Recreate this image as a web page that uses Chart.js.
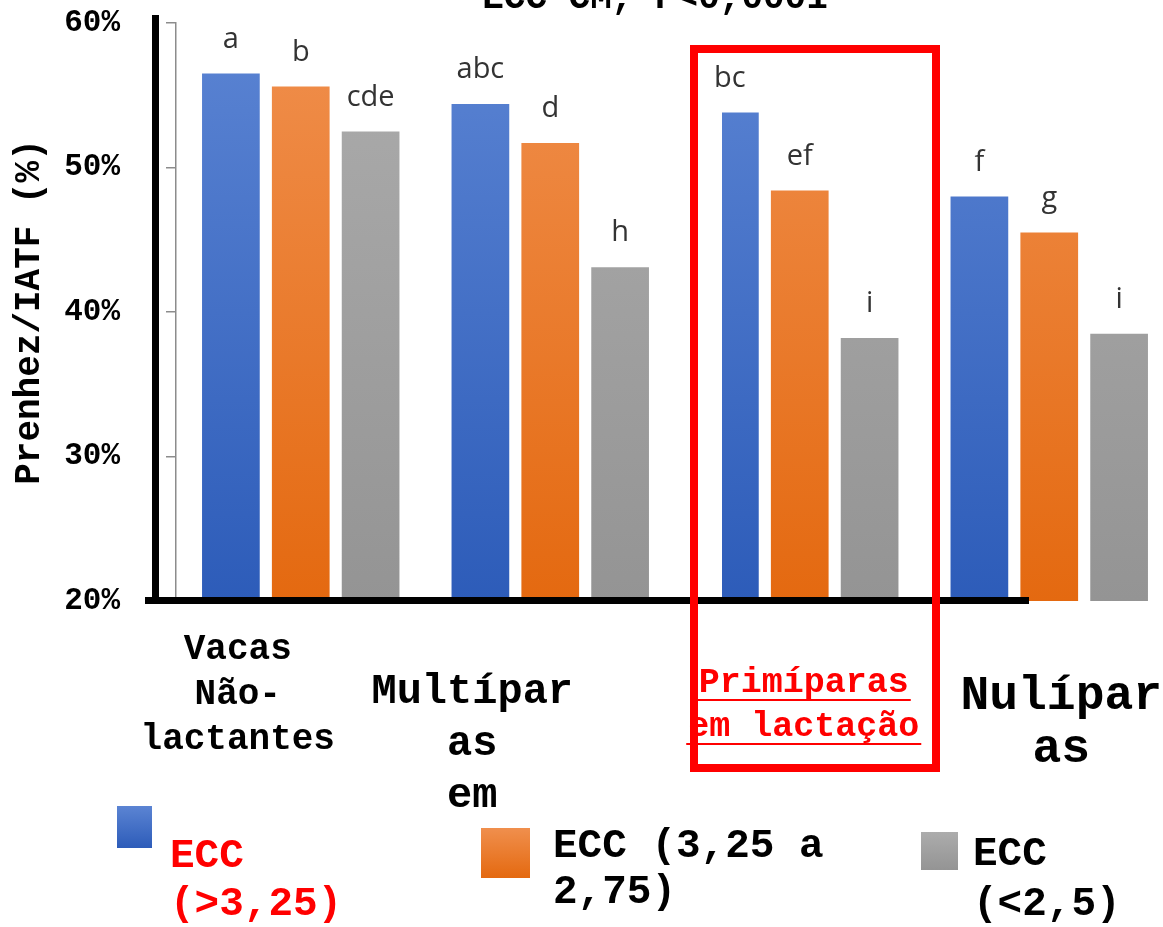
<!DOCTYPE html>
<html>
<head>
<meta charset="utf-8">
<script src="https://cdn.jsdelivr.net/npm/chart.js@4.4.1/dist/chart.umd.min.js"></script>
<style>
    html, body { margin: 0; padding: 0; background: #fff; overflow: hidden; }
    /* the last group runs off the right edge of the picture */
    #wrap { width: 1163px; height: 927px; overflow: hidden; }
</style>
</head>
<body>
<div id="wrap"><canvas id="prenhezChart" width="1174" height="927"></canvas></div>
<script>
// categories and the way their names are broken on the picture
const categories = ['Vacas Não-lactantes', 'Multíparas em lactação', 'Primíparas em lactação', 'Nulíparas'];
const categoryLines = [['Vacas', 'Não-', 'lactantes'], ['Multípar', 'as', 'em'], ['Primíparas', 'em lactação'], ['Nulípar', 'as']];

const seriesNames = ['ECC (>3,25)', 'ECC (3,25 a 2,75)', 'ECC (<2,5)'];
const legendLines = [['ECC', '(>3,25)'], ['ECC (3,25 a', '2,75)'], ['ECC', '(<2,5)']];

// pregnancy per TAI (%)
const eccHigh = [56.5, 54.4, 53.8, 48.0];
const eccMid = [55.6, 51.7, 48.4, 45.5];
const eccLow = [52.5, 43.1, 38.2, 38.5];

// significance letters
const lettersHigh = ['a', 'abc', 'bc', 'f'];
const lettersMid = ['b', 'd', 'ef', 'g'];
const lettersLow = ['cde', 'h', 'i', 'i'];

const yTicks = [20, 30, 40, 50, 60];
const chartTitle = 'ECC CM, P<0,0001';
const yTitle = 'Prenhez/IATF (%)';

const MONO = "'Liberation Mono', 'Courier New', monospace";

function barGradient(top, bottom) {
    return function (context) {
        const chart = context.chart;
        const area = chart.chartArea;
        if (!area) return bottom;
        const g = chart.ctx.createLinearGradient(0, area.top, 0, area.bottom);
        g.addColorStop(0, top);
        g.addColorStop(1, bottom);
        return g;
    };
}

const colors = [
    ['#5b84d3', '#2d5cb9'], // blue
    ['#f08f4d', '#e46910'], // orange
    ['#acacac', '#949494']  // gray
];

const decorPlugin = {
    id: 'decor',
    afterDatasetsDraw(chart) {
        const ctx = chart.ctx;
        ctx.save();
        // white patch cut into the third group
        ctx.fillStyle = '#fff';
        ctx.fillRect(660, 15, 62, 582);
        // thick black axes
        ctx.fillStyle = '#000';
        ctx.fillRect(152, 15, 7, 589);
        ctx.fillRect(145, 597, 884, 7);
        ctx.restore();
    },
    afterDraw(chart) {
        const ctx = chart.ctx;
        ctx.save();

        // letters above bars
        const letters = [lettersHigh, lettersMid, lettersLow];
        ctx.font = "29px 'Open Sans', sans-serif";
        ctx.fillStyle = '#333';
        ctx.textAlign = 'center';
        ctx.textBaseline = 'middle';
        chart.data.datasets.forEach((ds, di) => {
            chart.getDatasetMeta(di).data.forEach((bar, i) => {
                ctx.fillText(letters[di][i], bar.x, bar.y - 34);
            });
        });

        // clipped title at the top
        ctx.font = 'bold 36px ' + MONO;
        ctx.fillStyle = '#000';
        ctx.textBaseline = 'alphabetic';
        ctx.fillText(chartTitle, 655, 8);

        // category names
        const xs = chart.scales.x;
        const styles = [
            { size: 36, dx: -63, y: 650, lh: 45, color: '#000' },
            { size: 42, dx: -78, y: 692, lh: 52, color: '#000' },
            { size: 35, dx: 4, y: 683, lh: 44, color: '#ff0000', underline: true },
            { size: 48, dx: 12, y: 697, lh: 53, color: '#000' }
        ];
        ctx.textBaseline = 'middle';
        categoryLines.forEach((lines, i) => {
            const s = styles[i];
            const cx = xs.getPixelForValue(i) + s.dx;
            ctx.font = 'bold ' + s.size + 'px ' + MONO;
            ctx.fillStyle = s.color;
            ctx.strokeStyle = s.color;
            ctx.lineWidth = 2;
            lines.forEach((line, j) => {
                const y = s.y + j * s.lh;
                ctx.fillText(line, cx, y);
                if (s.underline) {
                    const w = ctx.measureText(line).width;
                    ctx.beginPath();
                    ctx.moveTo(cx - w / 2 - 2, y + 17);
                    ctx.lineTo(cx + w / 2 + 2, y + 17);
                    ctx.stroke();
                }
            });
        });

        // red highlight box
        ctx.strokeStyle = '#ff0000';
        ctx.lineWidth = 8;
        ctx.strokeRect(694, 49, 242, 719);

        // legend
        const legend = [
            { box: [117, 806, 35, 42], tx: 170, ys: [857, 905], color: '#ff0000' },
            { box: [481, 828, 49, 50], tx: 553, ys: [847, 893], color: '#000' },
            { box: [921, 832, 37, 38], tx: 973, ys: [855, 905], color: '#000' }
        ];
        ctx.textAlign = 'left';
        ctx.font = 'bold 41px ' + MONO;
        legend.forEach((item, i) => {
            const [bx, by, bw, bh] = item.box;
            const g = ctx.createLinearGradient(0, by, 0, by + bh);
            g.addColorStop(0, colors[i][0]);
            g.addColorStop(1, colors[i][1]);
            ctx.fillStyle = g;
            ctx.fillRect(bx, by, bw, bh);
            ctx.fillStyle = item.color;
            legendLines[i].forEach((line, j) => ctx.fillText(line, item.tx, item.ys[j]));
        });

        ctx.restore();
    }
};

const ctx = document.getElementById('prenhezChart').getContext('2d');
new Chart(ctx, {
    type: 'bar',
    data: {
        labels: categories,
        datasets: [eccHigh, eccMid, eccLow].map((values, i) => ({
            label: seriesNames[i],
            data: values,
            backgroundColor: barGradient(colors[i][0], colors[i][1]),
            borderWidth: 0,
            categoryPercentage: 0.84,
            barPercentage: 0.826
        }))
    },
    options: {
        responsive: false,
        animation: false,
        layout: { padding: { top: 23, bottom: 326, left: 0, right: 0 } },
        plugins: {
            legend: { display: false },
            tooltip: { enabled: false }
        },
        scales: {
            x: { display: false },
            y: {
                min: yTicks[0],
                max: yTicks[yTicks.length - 1],
                afterBuildTicks: scale => { scale.ticks = yTicks.map(v => ({ value: v })); },
                afterFit: scale => {
                    scale.width = 176;
                    scale.paddingTop = 0;
                    scale.paddingBottom = 0;
                },
                ticks: {
                    callback: v => v + '%',
                    color: '#000',
                    padding: 46,
                    font: { family: MONO, size: 31, weight: 'bold' }
                },
                grid: {
                    drawOnChartArea: false,
                    drawTicks: true,
                    tickLength: 10,
                    color: '#8c8c8c',
                    lineWidth: 1.5
                },
                border: { display: true, color: '#8c8c8c', width: 1.5 },
                title: {
                    display: true,
                    text: yTitle,
                    color: '#000',
                    font: { family: MONO, size: 36, weight: 'bold' },
                    padding: { top: 8, bottom: 0 }
                }
            }
        }
    },
    plugins: [decorPlugin]
});
</script>
</body>
</html>
